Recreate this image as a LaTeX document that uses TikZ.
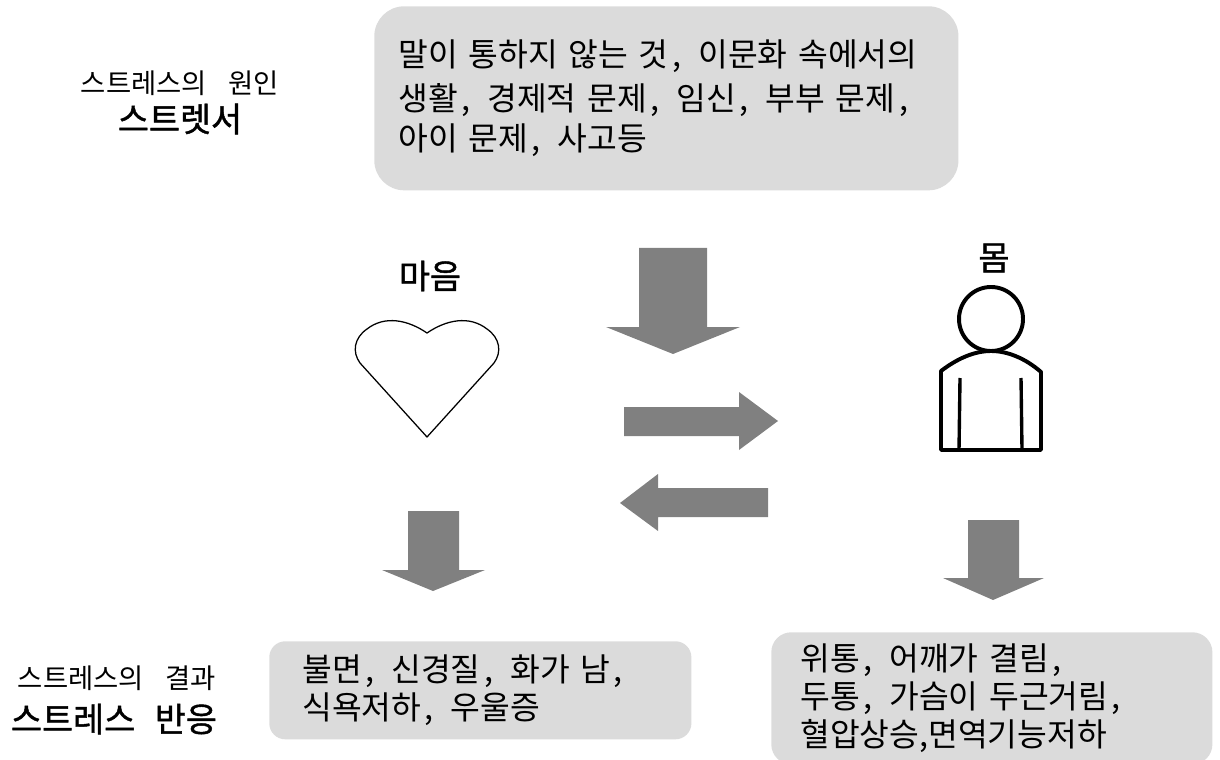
\documentclass[tikz,border=0pt]{standalone}
\usepackage{fontspec}
\setmainfont[WordSpace=3.5]{Noto Sans CJK KR}
\newfontfamily\fakebold[WordSpace=2.6,FakeBold=1.3]{Noto Sans CJK KR}
\usetikzlibrary{positioning}
\newcommand{\kma}{\kern2.5pt,\kern4.5pt}

\begin{document}
\begin{tikzpicture}[x=0.025cm, y=-0.025cm]
    \tikzstyle{greybox}=[fill=black!14, inner ysep=0pt, anchor=north west, align=left];
    \tikzstyle{smalllabel}=[font=\fontsize{19.5}{22}\selectfont];
    \tikzstyle{biglabel}=[font=\fontsize{24}{28}\fakebold];
    \tikzstyle{titlelabel}=[font=\fontsize{24}{28}\fakebold];
    \tikzstyle{blockarrow}=[fill=black!50];
    \tikzstyle{outline}=[draw=black, line join=round];

    \useasboundingbox (0, 0) rectangle (1220, 760);

    % boxes
    \node[greybox, font=\fontsize{23}{28.2}\selectfont, minimum width=14.6cm, minimum height=4.6cm, rounded corners=0.75cm, inner xsep=0.6cm, text width=13.4cm] (cause) at (374, 6)
    {\vspace*{2.8pt}말이 통하지 않는 것\kma{} 이문화 속에서의\\생활\kma{} 경제적 문제\kma{} 임신\kma{} 부부 문제\kma\\아이 문제\kma{} 사고등};
    \node[greybox, font=\fontsize{23}{24.2}\selectfont, minimum width=10.55cm, minimum height=2.45cm, rounded corners=0.4cm, inner xsep=0.825cm, text width=8.9cm] (mindresult) at (269, 641)
    {\vspace*{2.8pt}불면\kma{} 신경질\kma{} 화가 남\kma\\식욕저하\kma{} 우울증};
    \node[greybox, font=\fontsize{23}{27}\selectfont, minimum width=11.025cm, minimum height=3.3cm, rounded corners=0.5cm, inner xsep=0.725cm, text width=9.575cm] (bodyresult) at (771, 632)
    {위통\kma{} 어깨가 결림\kma\\두통\kma{} 가슴이 두근거림\kma\\혈압상승,면역기능저하};

    % labels
    \node[smalllabel] (causetitle) at (180, 83) {스트레스의 원인};
    \node[biglabel] (stressor) at (180, 119) {스트렛서};
    \node[smalllabel] (resulttitle) at (117, 678) {스트레스의 결과};
    \node[biglabel] (response) at (114, 719) {스트레스 반응};
    \node[titlelabel] (mind) at (430, 276) {마음};
    \node[titlelabel] (body) at (994, 258) {몸};

    % arrows
    \fill[blockarrow] (639, 248) -- (707, 248) -- (707, 327) -- (740, 327) -- (673, 354) -- (606, 327) -- (639, 327) -- cycle;
    \fill[blockarrow] (624, 407) -- (739, 407) -- (739, 392) -- (778, 421) -- (739, 450) -- (739, 436) -- (624, 436) -- cycle;
    \fill[blockarrow] (768, 488) -- (658, 488) -- (658, 474) -- (620, 503) -- (658, 531) -- (658, 517) -- (768, 517) -- cycle;
    \fill[blockarrow] (408, 511) -- (459, 511) -- (459, 570) -- (485, 570) -- (433, 591) -- (382, 570) -- (408, 570) -- cycle;
    \fill[blockarrow] (968, 520) -- (1019, 520) -- (1019, 578) -- (1044, 578) -- (993, 600) -- (943, 578) -- (968, 578) -- cycle;

    % heart
    \draw[outline, line width=0.9pt] (427, 437) -- (360, 363)
        .. controls (352, 352) and (354, 338) .. (367, 329)
        .. controls (385, 315) and (408, 320) .. (427, 333)
        .. controls (446, 320) and (469, 315) .. (487, 329)
        .. controls (500, 338) and (502, 352) .. (494, 363) -- cycle;

    % person
    \draw[outline, line width=2.8pt] (991, 319) circle (32);
    \draw[outline, line width=2.8pt] (941, 450) -- (941, 371)
        .. controls (958, 358) and (975, 351) .. (991, 351)
        .. controls (1007, 351) and (1025, 358) .. (1041, 372)
        -- (1041, 450) -- cycle;
    \draw[outline, line width=2.4pt] (960, 378) -- (959, 450);
    \draw[outline, line width=2.4pt] (1021, 378) -- (1022, 450);
\end{tikzpicture}
\end{document}
